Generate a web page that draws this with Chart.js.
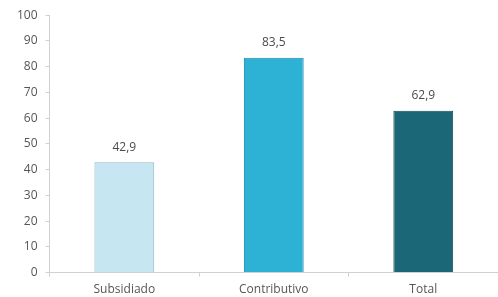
<!DOCTYPE html>
<html>
<head>
<meta charset="utf-8">
<script src="https://cdn.jsdelivr.net/npm/chart.js@4"></script>
<style>
  html, body { margin: 0; padding: 0; background: #fff; overflow: hidden; }
  #wrap { width: 498px; height: 297px; }
</style>
</head>
<body>
<div id="wrap"><canvas id="chart" width="498" height="297"></canvas></div>
<script>
( function () {
    'use strict';

    var categories = [ 'Subsidiado', 'Contributivo', 'Total' ];
    var values     = [ 42.9, 83.5, 62.9 ];
    var labels     = [ '42,9', '83,5', '62,9' ];
    var barColors  = [ '#c6e6f1', '#2db2d6', '#1b6677' ];
    var edgeColors = [ '#8fb7c6', '#1f8aa8', '#124c59' ];

    /* ── value labels above bars ─────────────────────────────────────────── */
    var valueLabels = {
        id: 'valueLabels',
        afterDatasetsDraw: function ( chart ) {
            var ctx = chart.ctx;
            var meta = chart.getDatasetMeta( 0 );
            ctx.save();
            ctx.font = '12px "Open Sans", sans-serif';
            ctx.fillStyle = '#4a4a4a';
            ctx.textAlign = 'center';
            ctx.textBaseline = 'middle';
            meta.data.forEach( function ( bar, i ) {
                ctx.fillText( labels[ i ], bar.x, bar.y - 15 );
            } );
            ctx.restore();
        },
    };

    var tickFont = { family: '"Open Sans", sans-serif', size: 12 };

    new Chart( document.getElementById( 'chart' ), {
        type: 'bar',
        data: {
            labels: categories,
            datasets: [ {
                data:            values,
                backgroundColor: barColors,
                borderColor:     edgeColors,
                borderWidth:     1,
                categoryPercentage: 1,
                barPercentage:   0.4,
            } ],
        },
        options: {
            responsive: false,
            animation:  false,
            layout: { padding: { top: 13, right: 0, left: 9, bottom: -6 } },
            plugins: {
                legend:  { display: false },
                tooltip: { enabled: false },
            },
            scales: {
                x: {
                    grid:   { display: true, drawOnChartArea: false, offset: true, tickLength: 4, color: '#d0d0d0' },
                    border: { color: '#d0d0d0' },
                    ticks:  { font: tickFont, color: '#555', padding: 6 },
                },
                y: {
                    min: 0,
                    max: 100,
                    grid:   { drawOnChartArea: false, tickLength: 4, color: '#d0d0d0' },
                    border: { color: '#d0d0d0' },
                    ticks:  { stepSize: 10, font: tickFont, color: '#555', padding: 8 },
                },
            },
        },
        plugins: [ valueLabels ],
    } );
} )();
</script>
</body>
</html>
